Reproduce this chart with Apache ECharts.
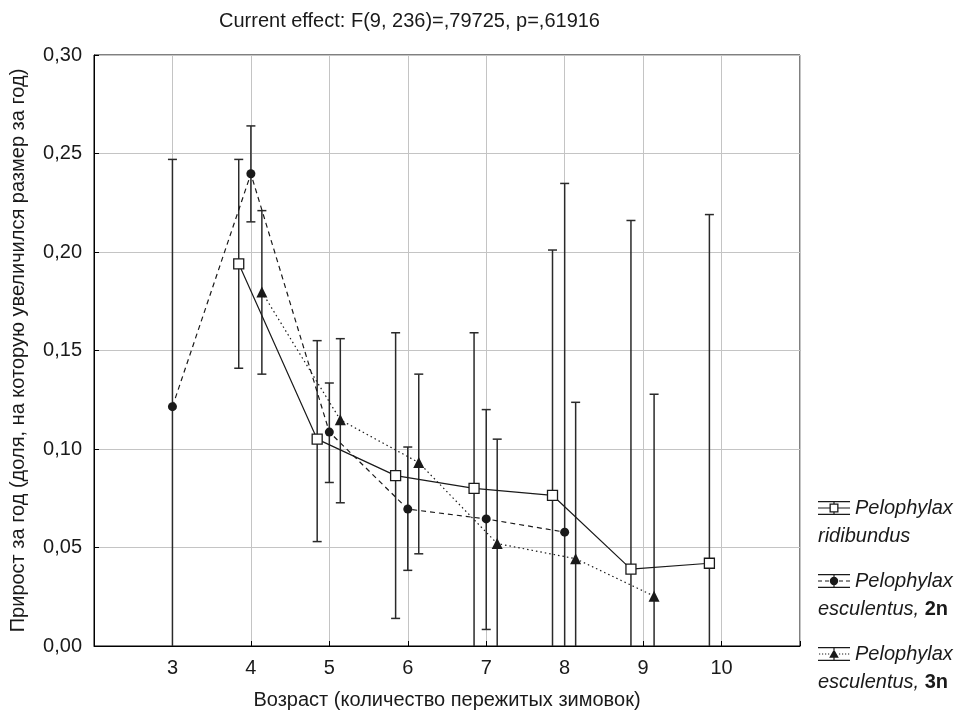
<!DOCTYPE html>
<html>
<head>
<meta charset="utf-8">
<script src="https://cdn.jsdelivr.net/npm/echarts@6/dist/echarts.min.js"></script>
<style>html,body{margin:0;padding:0;background:#fff;}#chart{width:963px;height:715px;}</style>
</head>
<body>
<div id="chart"></div>
<script>
// ---- data ----
const titleText = 'Current effect: F(9, 236)=,79725, p=,61916';
const xAxisTitle = 'Возраст (количество пережитых зимовок)';
const yAxisTitle = 'Прирост за год (доля, на которую увеличился размер за год)';
const xTickLabels = [3, 4, 5, 6, 7, 8, 9, 10];

const seriesNames = ['Pelophylax ridibundus', 'Pelophylax esculentus, 2n', 'Pelophylax esculentus, 3n'];

const ageRid = [4, 5, 6, 7, 8, 9, 10];
const meanRid = [0.194, 0.105, 0.0865, 0.080, 0.0765, 0.039, 0.042];
const lowRid = [0.141, 0.053, 0.014, -0.005, -0.048, -0.138, -0.135];
const highRid = [0.247, 0.155, 0.159, 0.159, 0.201, 0.216, 0.219];

const age2n = [3, 4, 5, 6, 7, 8];
const mean2n = [0.1215, 0.2397, 0.1086, 0.0695, 0.0645, 0.0578];
const low2n = [-0.004, 0.2153, 0.083, 0.0384, 0.0084, -0.119];
const high2n = [0.247, 0.264, 0.1335, 0.101, 0.120, 0.2348];

const age3n = [4, 5, 6, 7, 8, 9];
const mean3n = [0.1797, 0.1148, 0.0931, 0.052, 0.0443, 0.0253];
const low3n = [0.138, 0.0727, 0.0468, -0.001, -0.035, -0.077];
const high3n = [0.221, 0.156, 0.138, 0.105, 0.1237, 0.1278];

// ---- presentation ----
const dodge = [-0.155, 0, 0.14];
const FONT = '"Liberation Sans", Arial, sans-serif';
const INK = '#1a1a1a';

function pts(ages, means, off) { return ages.map((a, i) => [a + off, means[i]]); }
function bars(ages, lows, highs, off) { return ages.map((a, i) => [a + off, lows[i], highs[i]]); }

function errRender(params, api) {
  const x = api.value(0), lo = api.value(1), hi = api.value(2);
  const pH = api.coord([x, hi]);
  const pL = api.coord([x, lo]);
  const w = 4.5;
  const st = { stroke: '#2a2a2a', lineWidth: 1.5 };
  return {
    type: 'group',
    children: [
      { type: 'line', shape: { x1: pH[0], y1: pH[1], x2: pL[0], y2: pL[1] }, style: st },
      { type: 'line', shape: { x1: pH[0] - w, y1: pH[1], x2: pH[0] + w, y2: pH[1] }, style: st },
      { type: 'line', shape: { x1: pL[0] - w, y1: pL[1], x2: pL[0] + w, y2: pL[1] }, style: st }
    ]
  };
}

// legend icon paths (32 x 14 box)
const frame = 'M0 0H32V1.3H0Z M0 12.7H32V14H0Z ';
const iconRid = 'path://' + frame +
  'M15.4 1.3H16.6V2.5H15.4Z M15.4 11.5H16.6V12.7H15.4Z ' +
  'M0 6.4H11.5V7.6H0Z M20.5 6.4H32V7.6H20.5Z ' +
  'M11.5 2.5H20.5V11.5H11.5Z M12.8 3.8V10.2H19.2V3.8Z';
const icon2n = 'path://' + frame +
  'M15.4 1.3H16.6V12.7H15.4Z ' +
  'M0 6.4H4V7.6H0Z M7 6.4H11V7.6H7Z M21 6.4H25V7.6H21Z M28 6.4H32V7.6H28Z ' +
  'M20.2 7A4.2 4.2 0 1 1 11.8 7A4.2 4.2 0 1 1 20.2 7Z';
const icon3n = 'path://' + frame +
  'M15.4 1.3H16.6V12.7H15.4Z ' +
  'M1 6.4H2.2V7.6H1Z M4 6.4H5.2V7.6H4Z M7 6.4H8.2V7.6H7Z M10 6.4H11.2V7.6H10Z ' +
  'M21 6.4H22.2V7.6H21Z M24 6.4H25.2V7.6H24Z M27 6.4H28.2V7.6H27Z M30 6.4H31.2V7.6H30Z ' +
  'M16 2.2L20.8 10.8H11.2Z';

const chart = echarts.init(document.getElementById('chart'), null, { renderer: 'canvas' });

const option = {
  backgroundColor: '#fff',
  animation: false,
  textStyle: { fontFamily: FONT },
  title: {
    text: titleText,
    left: 214, top: 6,
    textStyle: { fontSize: 20, fontWeight: 'normal', color: INK, fontFamily: FONT }
  },
  grid: {
    left: 94, right: 163, top: 55, bottom: 66,
    show: true, borderColor: '#000', borderWidth: 1, backgroundColor: 'transparent'
  },
  legend: {
    orient: 'vertical',
    left: 813, top: 461,
    itemWidth: 32, itemHeight: 14,
    itemGap: -11,
    selectedMode: false,
    data: [
      { name: seriesNames[0], icon: iconRid, itemStyle: { color: INK, borderWidth: 0 } },
      { name: seriesNames[1], icon: icon2n, itemStyle: { color: INK, borderWidth: 0 } },
      { name: seriesNames[2], icon: icon3n, itemStyle: { color: INK, borderWidth: 0 } }
    ],
    formatter: function (name) {
      if (name === seriesNames[0]) return 'Pelophylax\n{l2|ridibundus}';
      if (name === seriesNames[1]) return 'Pelophylax\n{l2|esculentus, }{b|2n}';
      return 'Pelophylax\n{l2|esculentus, }{b|3n}';
    },
    textStyle: {
      fontSize: 20, fontStyle: 'italic', color: INK, fontFamily: FONT,
      lineHeight: 28, padding: [28, 0, 0, 0],
      rich: {
        l2: { fontSize: 20, fontStyle: 'italic', color: INK, fontFamily: FONT, lineHeight: 28, padding: [0, 0, 0, -37] },
        b: { fontSize: 20, fontWeight: 'bold', fontStyle: 'normal', color: INK, fontFamily: FONT, lineHeight: 28 }
      }
    }
  },
  xAxis: {
    type: 'value', min: 2, max: 11, interval: 1,
    name: xAxisTitle, nameLocation: 'middle', nameGap: 44,
    nameTextStyle: { fontSize: 20, color: INK, fontFamily: FONT },
    axisLine: { show: true, onZero: false, lineStyle: { color: '#000', width: 1 } },
    axisTick: { show: true, inside: true, length: 5, lineStyle: { color: '#000' } },
    axisLabel: {
      fontSize: 20, color: INK, margin: 12, fontFamily: FONT,
      formatter: v => xTickLabels.indexOf(v) >= 0 ? String(v) : ''
    },
    splitLine: { show: true, lineStyle: { color: '#c4c4c4', width: 1 } }
  },
  yAxis: {
    type: 'value', min: 0, max: 0.3, interval: 0.05,
    name: yAxisTitle, nameLocation: 'middle', nameGap: 66, nameRotate: 90,
    nameTextStyle: { fontSize: 20, color: INK, fontFamily: FONT },
    axisLine: { show: true, lineStyle: { color: '#000', width: 1 } },
    axisTick: { show: true, inside: true, length: 5, lineStyle: { color: '#000' } },
    axisLabel: {
      fontSize: 20, color: INK, margin: 12, fontFamily: FONT,
      formatter: v => v.toFixed(2).replace('.', ',')
    },
    splitLine: { show: true, lineStyle: { color: '#c4c4c4', width: 1 } }
  },
  series: [
    { type: 'custom', name: 'err0', renderItem: errRender, clip: true, z: 2, silent: true,
      data: bars(ageRid, lowRid, highRid, dodge[0]), encode: { x: 0, y: [1, 2] } },
    { type: 'custom', name: 'err1', renderItem: errRender, clip: true, z: 2, silent: true,
      data: bars(age2n, low2n, high2n, dodge[1]), encode: { x: 0, y: [1, 2] } },
    { type: 'custom', name: 'err2', renderItem: errRender, clip: true, z: 2, silent: true,
      data: bars(age3n, low3n, high3n, dodge[2]), encode: { x: 0, y: [1, 2] } },
    { type: 'line', name: seriesNames[0], data: pts(ageRid, meanRid, dodge[0]), z: 3,
      symbol: 'rect', symbolSize: 10,
      itemStyle: { color: '#fff', borderColor: INK, borderWidth: 1.3 },
      lineStyle: { color: INK, width: 1.2, type: 'solid' } },
    { type: 'line', name: seriesNames[1], data: pts(age2n, mean2n, dodge[1]), z: 3,
      symbol: 'circle', symbolSize: 9,
      itemStyle: { color: INK, borderWidth: 0 },
      lineStyle: { color: INK, width: 1.2, type: [5, 4] } },
    { type: 'line', name: seriesNames[2], data: pts(age3n, mean3n, dodge[2]), z: 3,
      symbol: 'triangle', symbolSize: 11,
      itemStyle: { color: INK, borderWidth: 0 },
      lineStyle: { color: INK, width: 1.2, type: [1.5, 3] } }
  ]
};
chart.setOption(option);
</script>
</body>
</html>
